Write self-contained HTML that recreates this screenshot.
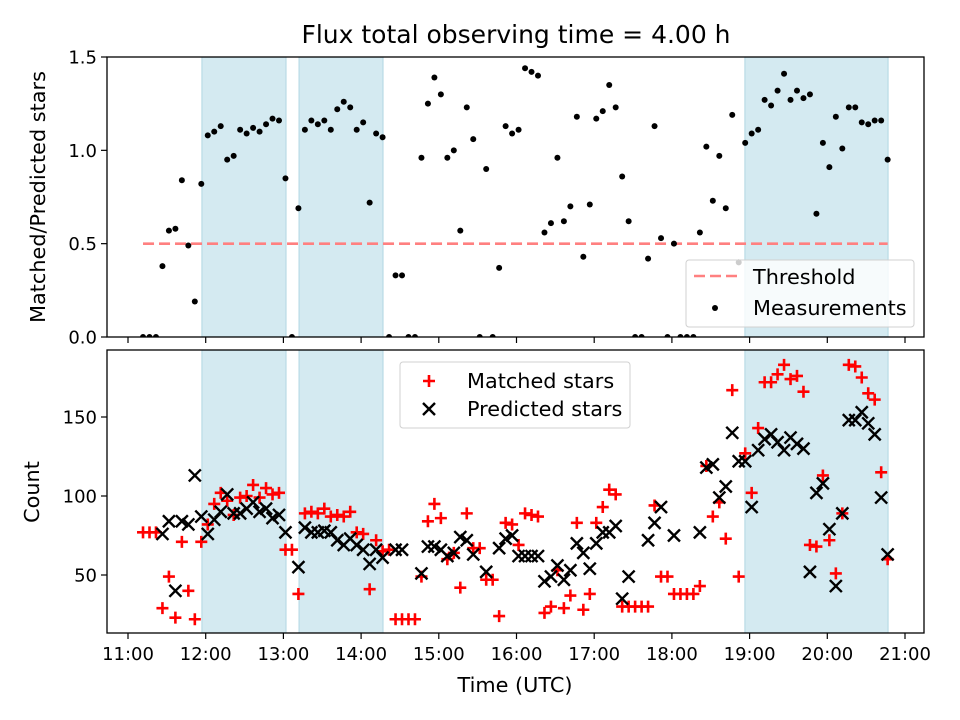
<!DOCTYPE html>
<html><head><meta charset="utf-8"><style>
html,body{margin:0;padding:0;background:#fff;}
svg{display:block;font-family:"DejaVu Sans","Liberation Sans",sans-serif;}
</style></head><body>
<svg id="chart" width="960" height="720" viewBox="0 0 960 720"></svg>
<script>
// ---- data ----
const startMinutes = 11.6;   // first observation, minutes after 11:00 UTC
const stepMinutes = 5.0;     // cadence
const ratioValues = [0,0,0,0.38,0.57,0.58,0.84,0.49,0.19,0.82,
1.08,1.10,1.13,0.95,0.97,1.11,1.09,1.12,1.10,1.14,
1.17,1.16,0.85,0,0.69,1.11,1.16,1.14,1.16,1.11,
1.22,1.26,1.23,1.11,1.15,0.72,1.09,1.07,0,0.33,
0.33,0,0,0.96,1.25,1.39,1.30,0.96,1.00,0.57,
1.23,1.06,0,0.90,0,0.37,1.13,1.09,1.11,1.44,
1.42,1.40,0.56,0.61,0.96,0.62,0.70,1.18,0.43,0.71,
1.17,1.21,1.35,1.23,0.86,0.62,0,0,0.42,1.13,
0.53,0,0.50,0,0,0,0.56,1.02,0.73,0.97,
0.69,1.19,0.40,1.04,1.09,1.11,1.27,1.24,1.32,1.41,
1.27,1.32,1.28,1.30,0.66,1.04,0.91,1.18,1.01,1.23,
1.23,1.15,1.14,1.16,1.16,0.95];
const matchedValues = [77,77,77,29,49,23,71,40,22,71,
82,95,102,97,88,99,100,107,99,105,
101,102,66,66,38,89,90,89,92,87,
88,87,90,77,76,41,72,65,66,22,
22,22,22,49,84,95,86,60,64,42,
89,67,67,47,47,24,83,82,69,89,
88,87,26,30,53,29,37,83,28,38,
83,93,104,101,30,30,30,30,30,94,
49,49,38,38,38,38,43,119,87,96,
73,167,49,127,102,143,172,172,177,183,
174,176,166,69,68,113,72,51,89,183,
182,175,165,161,115,60];
const predictedValues = [null,null,null,76,84,40,84,82,113,87,
76,85,90,101,89,89,92,96,90,92,
86,88,77,null,55,80,77,77,78,77,
72,69,73,69,66,57,66,61,null,66,
66,null,null,51,68,68,66,62,64,74,
72,63,null,52,null,67,73,75,62,62,
62,62,46,49,56,47,53,70,64,54,
70,77,77,81,35,49,null,null,72,83,
93,null,75,null,null,null,77,118,120,99,
106,140,122,122,93,129,136,139,134,129,
137,133,130,52,102,108,79,43,89,148,
148,153,146,139,99,63];
const spanStarts = [57.1, 132.1, 476.4];   // minutes after 11:00
const spanEnds = [122, 196.9, 586.9];
const thresholdValue = 0.5;
const xTickLabels = ["11:00","12:00","13:00","14:00","15:00","16:00","17:00","18:00","19:00","20:00","21:00"];
const topYTicks = [0.0,0.5,1.0,1.5];
const bottomYTicks = [50,100,150];

// ---- axes ----
const NS="http://www.w3.org/2000/svg";
const svg=document.getElementById('chart');
const L=107,R=924;
const T1=57,B1=337,T2=350,B2=633;
const xScale=m=>128+m*77.7/60;
const yTop=v=>B1-(v-0)*(B1-T1)/1.5;
const yBot=v=>654-v*1.58;
function mk(tag,attrs,parent){const e=document.createElementNS(NS,tag);for(const k in attrs)e.setAttribute(k,attrs[k]);(parent||svg).appendChild(e);return e;}
const defs=mk('defs',{});
const c1=mk('clipPath',{id:'clipTop'},defs);mk('rect',{x:L,y:T1,width:R-L,height:B1-T1},c1);
const c2=mk('clipPath',{id:'clipBot'},defs);mk('rect',{x:L,y:T2,width:R-L,height:B2-T2},c2);
const gTop=mk('g',{'clip-path':'url(#clipTop)'});


const gBot=mk('g',{'clip-path':'url(#clipBot)'});



// spans
for(let i=0;i<spanStarts.length;i++){
  const x0=xScale(spanStarts[i]),x1=xScale(spanEnds[i]);
  const a=mk('rect',{x:x0,y:T1,width:x1-x0,height:B1-T1,fill:'#d4eaf1',stroke:'#b9dbe6','stroke-width':1.2},gTop);
  
  
  const b=mk('rect',{x:x0,y:T2,width:x1-x0,height:B2-T2,fill:'#d4eaf1',stroke:'#b9dbe6','stroke-width':1.2},gBot);
  
  
}
const tFirst=startMinutes, tLast=startMinutes+stepMinutes*(ratioValues.length-1);
const th=mk('line',{x1:xScale(tFirst),x2:xScale(tLast),y1:yTop(thresholdValue),y2:yTop(thresholdValue),stroke:'#ff8080','stroke-width':2.6,'stroke-dasharray':'11,5'},gTop);



ratioValues.forEach((v,i)=>{
  const c=mk('circle',{cx:xScale(startMinutes+i*stepMinutes),cy:yTop(v),r:3,fill:'#000'},gTop);
  
  
});
matchedValues.forEach((v,i)=>{
  if(v===null)return;
  const x=xScale(startMinutes+i*stepMinutes),y=yBot(v),s=6;
  const p=mk('path',{d:`M${x-s},${y}H${x+s}M${x},${y-s}V${y+s}`,stroke:'#ff0000','stroke-width':2.6,fill:'none'},gBot);
  
  
});
predictedValues.forEach((v,i)=>{
  if(v===null)return;
  const x=xScale(startMinutes+i*stepMinutes),y=yBot(v),s=6;
  const p=mk('path',{d:`M${x-s},${y-s}L${x+s},${y+s}M${x-s},${y+s}L${x+s},${y-s}`,stroke:'#000','stroke-width':2.4,fill:'none'},gBot);
  
  
});

// frames
const f1=mk('rect',{x:L,y:T1,width:R-L,height:B1-T1,fill:'none',stroke:'#000','stroke-width':1.3});


const f2=mk('rect',{x:L,y:T2,width:R-L,height:B2-T2,fill:'none',stroke:'#000','stroke-width':1.3});



// x ticks
xTickLabels.forEach((lab,i)=>{
  const x=xScale(i*60);
  mk('line',{x1:x,x2:x,y1:B1,y2:B1+6,stroke:'#000','stroke-width':1.2});
  mk('line',{x1:x,x2:x,y1:B2,y2:B2+6,stroke:'#000','stroke-width':1.2});
  const t=mk('text',{x:x,y:B2+27,'text-anchor':'middle','font-size':18});
  t.textContent=lab;
  
  
});
topYTicks.forEach(v=>{
  const y=yTop(v);
  mk('line',{x1:L-6,x2:L,y1:y,y2:y,stroke:'#000','stroke-width':1.2});
  const t=mk('text',{x:L-10,y:y+6.5,'text-anchor':'end','font-size':18});
  t.textContent=v.toFixed(1);
  
  
});
bottomYTicks.forEach(v=>{
  const y=yBot(v);
  mk('line',{x1:L-6,x2:L,y1:y,y2:y,stroke:'#000','stroke-width':1.2});
  const t=mk('text',{x:L-10,y:y+6.5,'text-anchor':'end','font-size':18});
  t.textContent=v;
  
  
});
</script>
<svg width="960" height="720" style="position:absolute;left:0;top:0">
  <text x="516" y="43" text-anchor="middle" font-size="25">Flux total observing time = 4.00 h</text>
  <text x="515" y="692" text-anchor="middle" font-size="20.8">Time (UTC)</text>
  <text transform="translate(45,197) rotate(-90)" text-anchor="middle" font-size="20.8">Matched/Predicted stars</text>
  <text transform="translate(39,492) rotate(-90)" text-anchor="middle" font-size="20.8">Count</text>
  <g>
    <rect x="686" y="260" width="228" height="67" rx="3" fill="#ffffff" fill-opacity="0.8" stroke="#d0d0d0" stroke-width="1"/>
    <line x1="694" y1="276" x2="740" y2="276" stroke="#ff8080" stroke-width="2.6" stroke-dasharray="11,5"/>
    <text x="753" y="284" font-size="20.8">Threshold</text>
    <circle cx="715" cy="308" r="3" fill="#000"/>
    <text x="753" y="315" font-size="20.8">Measurements</text>
  </g>
  <g>
    <rect x="400" y="362" width="230" height="66" rx="3" fill="#ffffff" fill-opacity="0.8" stroke="#d0d0d0" stroke-width="1"/>
    <path d="M423,381H435M429,375V387" stroke="#ff0000" stroke-width="2.6"/>
    <text x="467" y="388" font-size="20.8">Matched stars</text>
    <path d="M423,403L435,415M423,415L435,403" stroke="#000" stroke-width="2.4"/>
    <text x="467" y="416" font-size="20.8">Predicted stars</text>
  </g>
</svg>
</body></html>
